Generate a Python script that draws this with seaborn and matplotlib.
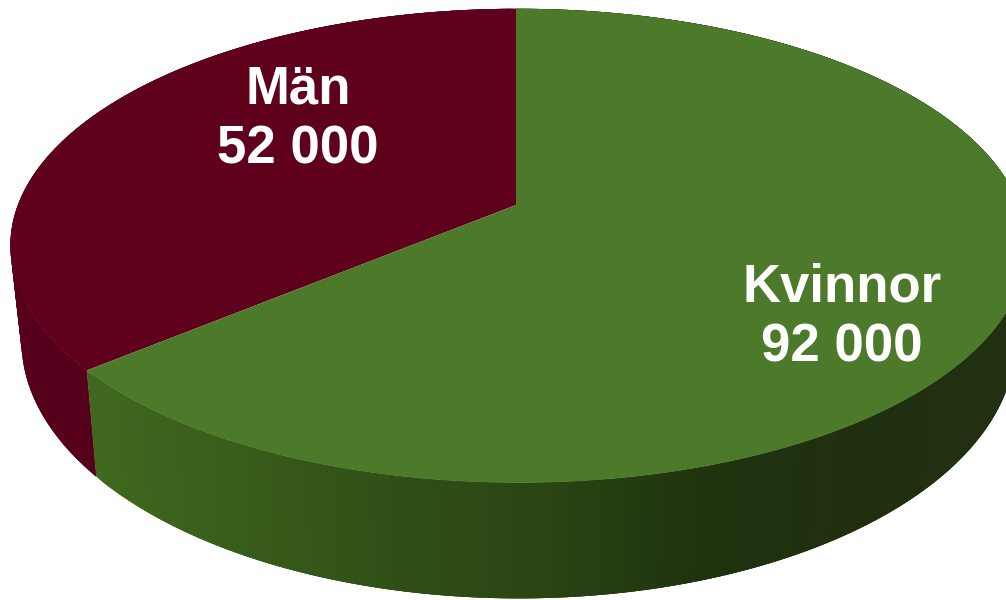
import numpy as np
import matplotlib
matplotlib.use("Agg")
import matplotlib.pyplot as plt
from matplotlib.collections import PolyCollection
import seaborn as sns

categories = ["Män", "Kvinnor"]
values = [52000, 92000]
value_labels = ["52 000", "92 000"]
top_colors = ["#5f001d", "#4c7a2a"]
side_colors = ["#57001b", None]
green_ramp = ["#40691f", "#385c1b", "#304f17", "#2a4413", "#1f330e", "#202f10", "#213010"]

sns.set_theme(style="white")
plt.rcParams["font.family"] = ["Liberation Sans", "DejaVu Sans"]

fig = plt.figure(figsize=(10.06, 6.0), dpi=100)
ax = fig.add_axes([0, 0, 1, 1])
ax.set_xlim(0, 1006)
ax.set_ylim(600, 0)
ax.axis("off")

P = 0.172
Q = -0.005
def project(t, x0, y0, sx, sy):
    """Perspective view of a circle; t runs counter-clockwise from the top."""
    u, v = -np.sin(t), np.cos(t)
    w = 1 + P * v + Q * u
    return x0 + sx * 500.6 * u / w, y0 - sy * 230 * v / w

fractions = np.array(values) / np.sum(values)
edges = np.concatenate([[0], np.cumsum(fractions)]) * 2 * np.pi
ramp = sns.blend_palette(green_ramp, 512)
TOP = (516, 205, 1.0, 1.0)
BOT = (516, 297, 0.978, 1.085)

# side walls: each facet overlaps the next, painted in order, so no seams show
for i in range(len(values)):
    ts = np.linspace(edges[i], edges[i + 1], 361)
    xt, yt = project(ts, *TOP)
    xb, yb = project(ts, *BOT)
    polys, cols = [], []
    for k in range(len(ts) - 1):
        j = min(k + 3, len(ts) - 1)
        polys.append([(xt[k], yt[k]), (xt[j], yt[j]), (xb[j], yb[j]), (xb[k], yb[k])])
        if side_colors[i] is not None:
            cols.append(side_colors[i])
        else:
            f = np.clip((xt[k] - 85) / (1006 - 85), 0, 1)
            cols.append(ramp[int(f * 511)])
    ax.add_collection(PolyCollection(polys, facecolors=cols, edgecolors="none", linewidths=0))

# top faces
for i in range(len(values)):
    ts = np.linspace(edges[i], edges[i + 1], 361)
    xs, ys = project(ts, *TOP)
    ax.fill(np.r_[TOP[0], xs], np.r_[TOP[1], ys], color=top_colors[i], lw=0)

# labels
label_xy = [(298, 103), (842, 301)]
for (x, y), c, v in zip(label_xy, categories, value_labels):
    ax.text(x, y, c, color="white", fontsize=38, fontweight="bold", ha="center", va="baseline")
    ax.text(x, y + 60.5, v, color="white", fontsize=38, fontweight="bold", ha="center", va="baseline")

fig.savefig("out.png", dpi=100)
